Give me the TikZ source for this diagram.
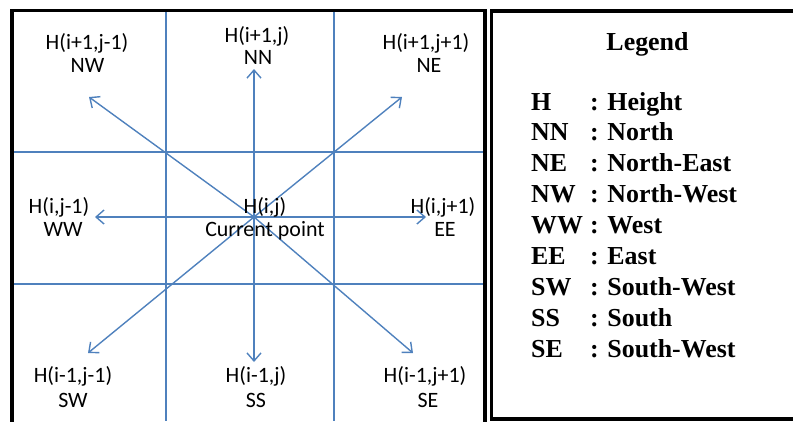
\documentclass[tikz,border=0pt]{standalone}
\usepackage{fontspec}
\setmainfont{Carlito}
\newfontfamily\legendfont{Liberation Serif}
\usetikzlibrary{arrows.meta}
\definecolor{officeblue}{RGB}{79,129,189}
\begin{document}
\begin{tikzpicture}[x=1bp,y=-1bp,
  frame/.style={line width=3.5bp,draw=black},
  gridline/.style={line width=1.4bp,draw=officeblue},
  dirarrow/.style={line width=1.4bp,draw=officeblue,-{Straight Barb[length=8bp,width=14bp,line width=1.4bp]}},
  lab/.style={font=\fontsize{22}{26}\selectfont,anchor=base,inner sep=0pt},
  leg/.style={font=\legendfont\bfseries\fontsize{26}{30}\selectfont,anchor=base west,inner sep=0pt}]
\useasboundingbox (0,0) rectangle (793,421);
% frames
\draw[frame] (12,430) -- (12,10.5) -- (485,10.5) -- (485,430);
\draw[frame] (800,419) -- (491.5,419) -- (491.5,11) -- (800,11);
% grid
\draw[gridline] (166,12) -- (166,421);
\draw[gridline] (334,12) -- (334,421);
\draw[gridline] (14,152) -- (483,152);
\draw[gridline] (14,284) -- (483,284);
% arrows
\coordinate (c) at (254,217);
\coordinate (tN) at (254,69);
\coordinate (tS) at (254,362);
\coordinate (tW) at (95,217);
\coordinate (tE) at (426,217);
\coordinate (tNW) at (89,97);
\coordinate (tNE) at (402,97);
\coordinate (tSW) at (88,353);
\coordinate (tSE) at (413,353);
\foreach \t in {tN,tS,tW,tE,tNW,tNE,tSW,tSE} \draw[dirarrow] (c) -- (\t);
% labels
\node[lab] (nwH) at (87,49) {H(i+1,j-1)};
\node[lab] (nwT) at (87.5,72.7) {NW};
\node[lab] (nnH) at (257,42) {H(i+1,j)};
\node[lab] (nnT) at (258,64.5) {NN};
\node[lab] (neH) at (426,49) {H(i+1,j+1)};
\node[lab] (neT) at (429,72.7) {NE};
\node[lab] (wwH) at (59,213) {H(i,j-1)};
\node[lab] (wwT) at (63,236.5) {WW};
\node[lab] (cH) at (265,213) {H(i,j)};
\node[lab] (cT) at (265,236.5) {Current point};
\node[lab] (eeH) at (443,213) {H(i,j+1)};
\node[lab] (eeT) at (445,236.5) {EE};
\node[lab] (swH) at (73,382) {H(i-1,j-1)};
\node[lab] (swT) at (73,407.5) {SW};
\node[lab] (ssH) at (256,382) {H(i-1,j)};
\node[lab] (ssT) at (256,407.5) {SS};
\node[lab] (seH) at (425,382) {H(i-1,j+1)};
\node[lab] (seT) at (428,407.5) {SE};
% legend
\node[leg,anchor=base] (legend) at (647.5,50) {Legend};
\foreach \k/\a/\b in {0/H/Height,1/NN/North,2/NE/North-East,3/NW/North-West,4/WW/West,5/EE/East,6/SW/South-West,7/SS/South,8/SE/South-West}{
  \node[leg] (ab\k) at (531,110+30.9*\k) {\a};
  \node[leg] (df\k) at (590,110+30.9*\k) {: \b};
}
\end{tikzpicture}
\end{document}
